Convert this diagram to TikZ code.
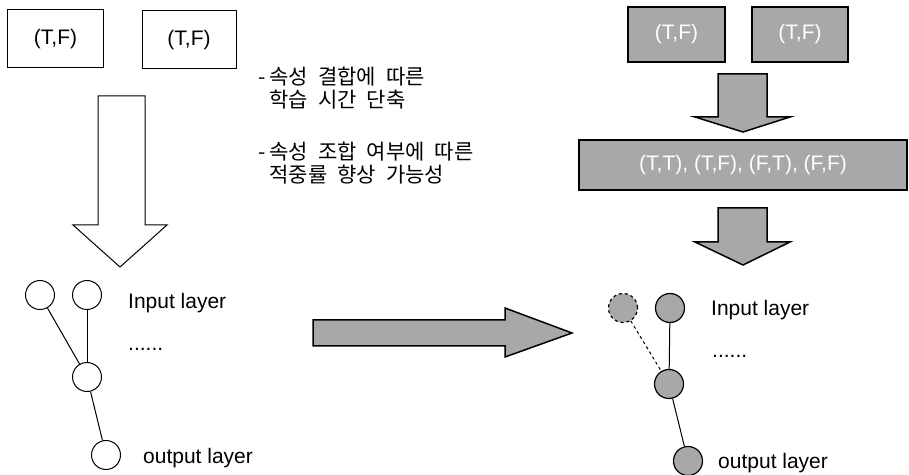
\documentclass[tikz,border=0pt]{standalone}
\usepackage{fontspec}
\setmainfont{Liberation Sans}
\newfontfamily\kr{Noto Sans CJK KR}
\definecolor{boxgray}{RGB}{168,168,168}
\newcommand{\krdash}{-\hspace{4bp}}
\newcommand{\krsetup}{\kr\fontsize{21bp}{25bp}\selectfont\spaceskip=10bp\relax}
\tikzset{
  every node/.style={font=\fontsize{21bp}{25bp}\selectfont},
  wbox/.style={draw=black, line width=1bp, inner sep=0pt, align=center},
  gbox/.style={draw=black, line width=1.5bp, fill=boxgray, text=white, inner sep=0pt, align=center},
  wcirc/.style={circle, draw=black, line width=1bp, inner sep=0pt, minimum size=29bp},
  gcirc/.style={circle, draw=black, line width=1.2bp, fill=boxgray, inner sep=0pt, minimum size=29bp},
  lbl/.style={anchor=base west, inner sep=0pt},
  klbl/.style={anchor=base west, inner sep=0pt, font=\krsetup},
  conn/.style={draw=black, line width=1bp},
  hollowarrow/.style={draw=black, line width=1bp, fill=white, line join=miter},
  grayarrow/.style={draw=black, line width=1.5bp, fill=boxgray, line join=miter}
}
\begin{document}
\begin{tikzpicture}[x=1bp, y=-1bp]
\useasboundingbox (0,0) rectangle (909,475);

% left boxes
\node[wbox, minimum width=95bp, minimum height=58bp] (lb1) at (55.5,39) {(T,F)};
\node[wbox, minimum width=94bp, minimum height=58bp] (lb2) at (189,40) {(T,F)};

% Korean notes
\node[klbl] (k1) at (258,85) {\krdash 속성 결합에 따른};
\node[klbl] (k2) at (258,108) {\hphantom{\krdash}학습 시간 단축};
\node[klbl] (k3) at (258,160) {\krdash 속성 조합 여부에 따른};
\node[klbl] (k4) at (258,183) {\hphantom{\krdash}적중률 향상 가능성};

% left hollow arrow
\draw[hollowarrow] (98,96) -- (145,96) -- (145,225) -- (167,225) -- (120,267) -- (73,225) -- (98,225) -- cycle;

% left network
\node[wcirc] (l1) at (40,295) {};
\node[wcirc] (l2) at (87,295) {};
\node[wcirc] (l3) at (87,377) {};
\node[wcirc] (l4) at (106,455) {};
\draw[conn] (l1) -- (l3);
\draw[conn] (l2) -- (l3);
\draw[conn] (l3) -- (l4);
\node[lbl] (lin) at (128,309) {Input layer};
\node[lbl] (ldots) at (128,351) {......};
\node[lbl] (lout) at (143,463) {output layer};

% middle arrow
\draw[grayarrow] (313,320) -- (505,320) -- (505,308) -- (572,333) -- (505,357) -- (505,346) -- (313,346) -- cycle;

% right boxes
\node[gbox, minimum width=97bp, minimum height=55bp] (rb1) at (676.5,34.5) {(T,F)};
\node[gbox, minimum width=96bp, minimum height=55bp] (rb2) at (800,34.5) {(T,F)};
\draw[grayarrow] (718,74) -- (767,74) -- (767,117) -- (790,117) -- (743,132) -- (695,117) -- (718,117) -- cycle;
\node[gbox, minimum width=328bp, minimum height=50bp] (rall) at (743,165) {(T,T), (T,F), (F,T), (F,F)};
\draw[grayarrow] (718,208) -- (767,208) -- (767,242) -- (790,242) -- (743,265) -- (695,242) -- (718,242) -- cycle;

% right network
\node[gcirc, dashed] (r1) at (623,308) {};
\node[gcirc] (r2) at (670,308) {};
\node[gcirc] (r3) at (669,384) {};
\node[gcirc] (r4) at (688,461) {};
\draw[conn, dashed] (r1) -- (r3);
\draw[conn] (r2) -- (r3);
\draw[conn] (r3) -- (r4);
\node[lbl] (rin) at (711,316) {Input layer};
\node[lbl] (rdots) at (712,358) {......};
\node[lbl] (rout) at (718,468) {output layer};
\end{tikzpicture}
\end{document}
